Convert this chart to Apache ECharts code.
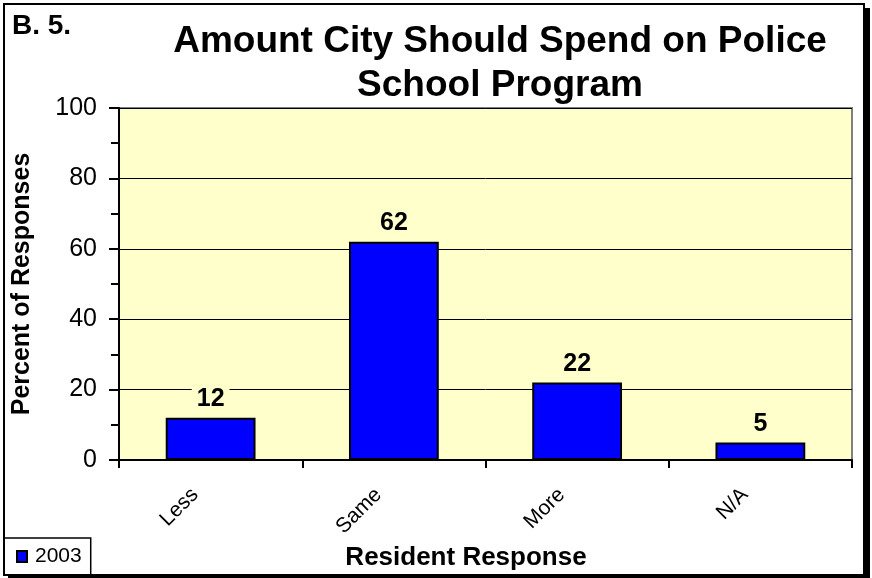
<!DOCTYPE html>
<html>
<head>
<meta charset="utf-8">
<script src="https://cdn.jsdelivr.net/npm/echarts@6/dist/echarts.min.js"></script>
<style>
  html, body { margin: 0; padding: 0; background: #fff; }
  #chart { width: 872px; height: 578px; }
</style>
</head>
<body>
<div id="chart"></div>
<script>
  // chart data
  const categories = ['Less', 'Same', 'More', 'N/A']
  const values2003 = [12, 62, 22, 5]
  const seriesName = '2003'
  const yTicks = [0, 20, 40, 60, 80, 100]

  const font = "'Liberation Sans', Arial, sans-serif"
  const chart = echarts.init(document.getElementById('chart'))

  chart.setOption({
      backgroundColor: '#ffffff',
      textStyle: { fontFamily: font },
      title: [{
          text: 'Amount City Should Spend on Police\nSchool Program',
          left: 500,
          top: 20,
          textAlign: 'center',
          padding: 0,
          textStyle: {
              fontSize: 37,
              fontWeight: 'bold',
              color: '#000',
              lineHeight: 44,
              fontFamily: font
          }
      }, {
          text: 'B. 5.',
          left: 12,
          top: 12,
          padding: 0,
          textStyle: {
              fontSize: 28,
              fontWeight: 'bold',
              color: '#000',
              fontFamily: font
          }
      }],
      legend: {
          data: [seriesName],
          left: 4,
          top: 538,
          orient: 'horizontal',
          icon: 'rect',
          itemWidth: 10,
          itemHeight: 11,
          padding: [8, 9, 8, 12],
          borderColor: '#000',
          borderWidth: 1.5,
          textStyle: {
              fontSize: 21,
              color: '#000',
              fontFamily: font,
              padding: [0, 0, 0, 3]
          }
      },
      grid: {
          left: 119,
          right: 20,
          top: 108,
          bottom: 118,
          outerBoundsMode: 'none',
          containLabel: false,
          show: true,
          backgroundColor: '#FFFFCC',
          borderColor: '#808080',
          borderWidth: 2
      },
      xAxis: {
          type: 'category',
          data: categories,
          name: 'Resident Response',
          nameLocation: 'middle',
          nameGap: 83,
          nameTextStyle: {
              fontSize: 26,
              fontWeight: 'bold',
              color: '#000',
              padding: [0, 39, 0, 0]
          },
          axisLine: { lineStyle: { color: '#000', width: 2 } },
          axisTick: {
              show: true,
              alignWithLabel: false,
              interval: 0,
              length: 8,
              lineStyle: { color: '#000', width: 2 }
          },
          axisLabel: {
              rotate: 45,
              interval: 0,
              margin: 16,
              fontSize: 21,
              color: '#000',
              padding: [0, 22, 0, 0]
          },
          splitLine: { show: false }
      },
      yAxis: {
          type: 'value',
          min: yTicks[0],
          max: yTicks[yTicks.length - 1],
          interval: 20,
          name: 'Percent of Responses',
          nameLocation: 'middle',
          nameGap: 84,
          nameTextStyle: {
              fontSize: 25,
              fontWeight: 'bold',
              color: '#000'
          },
          axisLine: { show: true, lineStyle: { color: '#000', width: 2 } },
          axisTick: {
              show: true,
              inside: false,
              length: 10,
              lineStyle: { color: '#000', width: 2 }
          },
          minorTick: {
              show: true,
              splitNumber: 2,
              length: 8,
              lineStyle: { color: '#000', width: 2 }
          },
          axisLabel: {
              margin: 22,
              fontSize: 25,
              color: '#000'
          },
          splitLine: { show: true, lineStyle: { color: '#000', width: 1 } }
      },
      series: [{
          name: seriesName,
          type: 'bar',
          data: values2003,
          barWidth: '49%',
          itemStyle: {
              color: '#0000FF',
              borderColor: '#000',
              borderWidth: 2
          },
          label: {
              show: true,
              position: 'top',
              distance: 6,
              fontSize: 25,
              fontWeight: 'bold',
              color: '#000',
              backgroundColor: '#FFFFCC',
              padding: [0, 5]
          }
      }],
      graphic: [
          // outer frame with a drop shadow like the Excel chart area
          { type: 'rect', shape: { x: 865, y: 8, width: 5, height: 570 }, style: { fill: '#000' }, silent: true },
          { type: 'rect', shape: { x: 8, y: 575, width: 862, height: 3 }, style: { fill: '#000' }, silent: true },
          { type: 'rect', shape: { x: 4, y: 4, width: 860, height: 571 }, style: { fill: 'none', stroke: '#000', lineWidth: 2 }, silent: true }
      ]
  })
</script>
</body>
</html>
